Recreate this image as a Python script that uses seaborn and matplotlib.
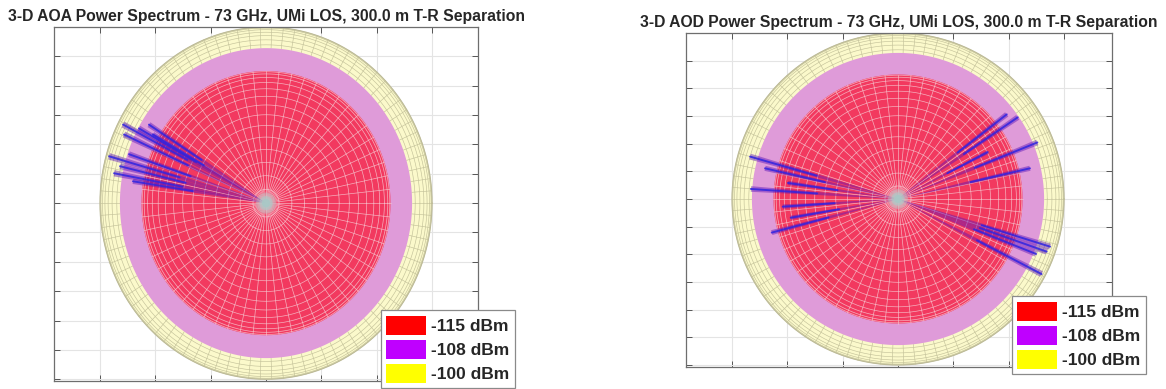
import numpy as np
import pandas as pd
import matplotlib
matplotlib.use("Agg")
import matplotlib.pyplot as plt
import seaborn as sns
from matplotlib.patches import Patch

# ---------------- data ----------------
titles = ["3-D AOA Power Spectrum - 73 GHz, UMi LOS, 300.0 m T-R Separation",
          "3-D AOD Power Spectrum - 73 GHz, UMi LOS, 300.0 m T-R Separation"]
level_labels = ["-115 dBm", "-108 dBm", "-100 dBm"]
level_colors = ["#FF0000", "#BF00FF", "#FFFF00"]
shell_radii = [0.75, 0.88, 1.0]          # -115, -108, -100 dBm shells
shell_fill = ["#F2395F", "#DF9BD9", "#FBF9CB"]

aoa_angles = [152.6, 151.0, 147.7, 155.5, 164.3, 161.4, 166.6, 169.5, 171.2, 150.2]
aoa_lengths = [0.97, 0.875, 0.834, 0.94, 0.982, 0.871, 0.904, 0.931, 0.811, 0.785]

aod_angles = [37.9, 34.3, 22.1, 13.1, 27.6, 164.0, 167.0, 176.1, 183.8, 189.9,
              194.9, 171.7, -17.4, -19.5, -21.7, -27.6]
aod_lengths = [0.83, 0.873, 0.906, 0.816, 0.61, 0.927, 0.822, 0.888, 0.696, 0.656,
               0.787, 0.67, 0.96, 0.95, 0.895, 0.976]

# ---------------- style ----------------
sns.set_style("whitegrid")
plt.rcParams["font.family"] = ["Liberation Sans", "DejaVu Sans"]

fig = plt.figure(figsize=(11.66, 3.89), dpi=100)
ax_pos = [[54 / 1166, 1 - 381 / 389, 424 / 1166, 354 / 389],
          [686 / 1166, 1 - 367 / 389, 426 / 1166, 334 / 389]]
ylims = [(-1.01, 0.99), (-1.012, 1.0)]
xlims = [(-1.277, 1.277), (-1.277, 1.289)]
legend_anchor = [(0.771, -0.02), (0.765, -0.021)]
rays = [(aoa_angles, aoa_lengths), (aod_angles, aod_lengths)]

t = np.linspace(0, 2 * np.pi, 361)


def circle(ax, r, **kw):
    ax.plot(r * np.cos(t), r * np.sin(t), **kw)


for i in range(2):
    ax = fig.add_axes(ax_pos[i])
    ax.set_xlim(*xlims[i])
    ax.set_ylim(*ylims[i])
    ax.set_xticks(np.arange(-3, 4) / 3)
    ax.set_yticks(np.arange(-6, 7) / 6)
    ax.set_axisbelow(True)
    ax.grid(True, color="#E4E4E4", lw=0.8)
    ax.tick_params(direction="in", length=4, width=0.7, color="#555555",
                   top=True, right=True, bottom=True, left=True,
                   labelbottom=False, labelleft=False)
    for s in ax.spines.values():
        s.set_color("#6E6E6E")
        s.set_linewidth(0.9)

    r_red, r_pink, r_yel = shell_radii
    # yellow outer shell with mesh
    ax.fill(r_yel * np.cos(t), r_yel * np.sin(t), color=shell_fill[2], lw=0, zorder=1)
    for phi in np.arange(60, 90, 4):
        circle(ax, r_yel * np.sin(np.radians(phi)), color="#C4C29A", lw=0.45, zorder=2)
    for a in np.radians(np.arange(0, 360, 4)):
        ax.plot([r_pink * np.cos(a), r_yel * np.cos(a)],
                [r_pink * np.sin(a), r_yel * np.sin(a)],
                color="#C4C29A", lw=0.45, zorder=2)
    circle(ax, r_yel, color="#BDBB98", lw=0.8, zorder=2)
    # pink middle shell
    ax.fill(r_pink * np.cos(t), r_pink * np.sin(t), color=shell_fill[1], lw=0, zorder=3)
    # red inner shell with mesh
    ax.fill(r_red * np.cos(t), r_red * np.sin(t), color=shell_fill[0], lw=0, zorder=4)
    for phi in np.arange(6, 90, 6):
        circle(ax, r_red * np.sin(np.radians(phi)), color="#F6CDD5", lw=0.5, alpha=0.8, zorder=5)
    for a in np.radians(np.arange(0, 360, 6)):
        ax.plot([0, r_red * np.cos(a)], [0, r_red * np.sin(a)],
                color="#F6CDD5", lw=0.5, alpha=0.8, zorder=5)

    # rays (lobes)
    angs, lens = rays[i]
    rows = []
    for k, (ang, ln) in enumerate(zip(angs, lens)):
        a = np.radians(ang)
        w = np.radians(1.1)
        ax.fill([0, ln * np.cos(a - w), ln * np.cos(a + w)],
                [0, ln * np.sin(a - w), ln * np.sin(a + w)],
                color="#5A12B8", alpha=0.45, lw=0, zorder=6)
        for frac in (0.55, 1.0):
            rows.append({"x": frac * ln * np.cos(a), "y": frac * ln * np.sin(a), "ray": k})
    df = pd.DataFrame(rows)
    sns.lineplot(data=df, x="x", y="y", units="ray", estimator=None, sort=False,
                 color="#3024E0", lw=1.4, alpha=0.85, ax=ax, zorder=7, legend=False)
    ax.set_xlabel("")
    ax.set_ylabel("")

    # center blob
    for rr, al in [(0.06, 0.35), (0.04, 0.6), (0.025, 0.9)]:
        ax.fill(rr * np.cos(t), rr * np.sin(t), color="#A9C8C6", alpha=al, lw=0, zorder=8)

    ax.set_title(titles[i], fontsize=11.3, fontweight="bold", pad=4)

    handles = [Patch(facecolor=c, edgecolor="none", label=l)
               for c, l in zip(level_colors, level_labels)]
    leg = ax.legend(handles=handles, loc="lower left", bbox_to_anchor=legend_anchor[i],
                    prop={"weight": "bold", "size": 12.5}, frameon=True, fancybox=False,
                    edgecolor="#8A8A8A", framealpha=1, handlelength=2.3, handleheight=1.3,
                    labelspacing=0.3, borderpad=0.3, handletextpad=0.3, borderaxespad=0)
    leg.get_frame().set_linewidth(0.9)
    leg.set_zorder(20)

fig.savefig("out.png", dpi=100)
